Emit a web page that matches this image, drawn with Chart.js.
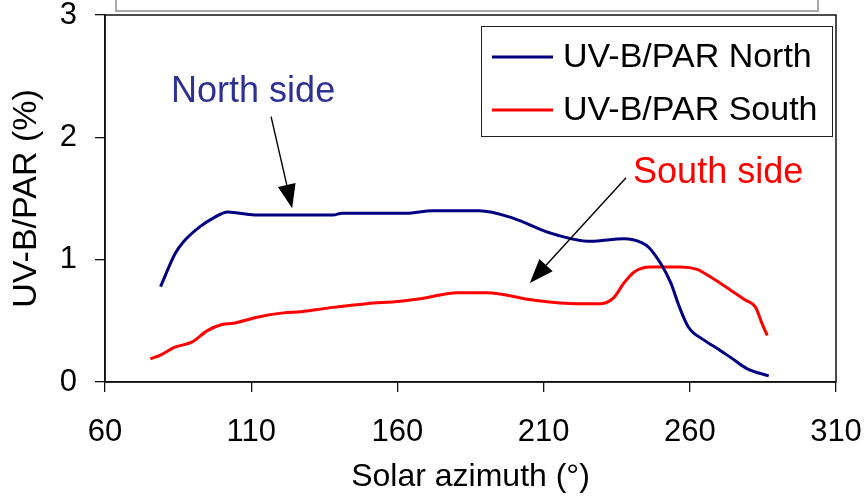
<!DOCTYPE html>
<html>
<head>
<meta charset="utf-8">
<script src="https://cdn.jsdelivr.net/npm/chart.js@4"></script>
<style>
  html, body { margin: 0; padding: 0; background: #fff; }
  #wrap { width: 864px; height: 498px; }
</style>
</head>
<body>
<div id="wrap"><canvas id="c" width="864" height="498"></canvas></div>
<script>
// ── data ──
var seriesNames = ["UV-B/PAR North", "UV-B/PAR South"];
var seriesColors = ["#000080", "#ff0000"];

var northX = [79, 84, 87, 92.5, 97, 102, 106, 112, 125, 138, 141, 163, 172, 188, 199.5, 212, 226, 237.5, 243.5, 246, 250, 253.5, 256.5, 259.5, 265, 269, 274, 279.5, 287];
var northY = [0.78, 1.05, 1.15, 1.27, 1.34, 1.39, 1.38, 1.365, 1.365, 1.365, 1.38, 1.38, 1.40, 1.40, 1.34, 1.22, 1.15, 1.17, 1.14, 1.10, 0.97, 0.81, 0.61, 0.45, 0.34, 0.28, 0.20, 0.11, 0.05];

var southX = [75.5, 79, 83.5, 90, 95, 100, 104, 112, 121, 127, 138, 149.5, 161, 169, 180.5, 190.5, 206.5, 221.5, 229.5, 234, 237.5, 241, 246.5, 257, 262.5, 267, 274, 279, 282.5, 284.5, 286.5];
var southY = [0.19, 0.22, 0.28, 0.33, 0.42, 0.47, 0.48, 0.53, 0.565, 0.575, 0.61, 0.64, 0.66, 0.685, 0.73, 0.73, 0.67, 0.64, 0.64, 0.69, 0.81, 0.90, 0.94, 0.94, 0.92, 0.86, 0.75, 0.67, 0.61, 0.49, 0.38];

var xMin = 60, xMax = 310, xStep = 50;
var yMin = 0, yMax = 3, yStep = 1;

// annotations in data units: text anchor + arrow from/to
var noteTexts  = ["North side", "South side"];
var noteColors = ["#2e3192", "#ff0000"];
var noteAt     = [[82.6, 2.29], [240.6, 1.63]];
var arrowFrom  = [[116.8, 2.17], [238.2, 1.67]];
var arrowTo    = [[124, 1.42], [205.3, 0.81]];

function pairs(xs, ys) {
  return xs.map(function(x, i) { return { x: x, y: ys[i] }; });
}

var FONT = "'Liberation Sans', Arial, sans-serif";

// ── frame, top box, legend, notes ──
var decor = {
  id: "decor",
  afterDraw: function(chart) {
    var ctx = chart.ctx, a = chart.chartArea;
    var xs = chart.scales.x, ys = chart.scales.y;
    ctx.save();

    // plot frame
    ctx.strokeStyle = "#111";
    ctx.lineWidth = 1.5;
    ctx.strokeRect(a.left, a.top, a.right - a.left, a.bottom - a.top);

    // clipped box above the plot
    ctx.strokeStyle = "#a8a8a8";
    ctx.lineWidth = 2;
    ctx.strokeRect(a.left + 11, -6, a.right - a.left - 29, a.top - 4 + 6);

    // legend
    var lw = 351, lh = 110;
    var lx = a.right - 4 - lw, ly = a.top + 11;
    ctx.fillStyle = "#fff";
    ctx.fillRect(lx, ly, lw, lh);
    ctx.strokeStyle = "#222";
    ctx.lineWidth = 1;
    ctx.strokeRect(lx + 0.5, ly + 0.5, lw, lh);
    ctx.font = "34px " + FONT;
    ctx.textBaseline = "middle";
    ctx.textAlign = "left";
    chart.data.datasets.forEach(function(ds, i) {
      var yy = ly + 31 + i * 53;
      ctx.strokeStyle = ds.borderColor;
      ctx.lineWidth = 3;
      ctx.beginPath();
      ctx.moveTo(lx + 11, yy);
      ctx.lineTo(lx + 72, yy);
      ctx.stroke();
      ctx.fillStyle = "#000";
      ctx.fillText(ds.label, lx + 82, yy + 1);
    });

    // notes with arrows
    ctx.font = "36px " + FONT;
    ctx.textBaseline = "alphabetic";
    noteTexts.forEach(function(t, i) {
      ctx.fillStyle = noteColors[i];
      ctx.fillText(t, xs.getPixelForValue(noteAt[i][0]), ys.getPixelForValue(noteAt[i][1]));

      var x1 = xs.getPixelForValue(arrowFrom[i][0]), y1 = ys.getPixelForValue(arrowFrom[i][1]);
      var x2 = xs.getPixelForValue(arrowTo[i][0]),   y2 = ys.getPixelForValue(arrowTo[i][1]);
      var ang = Math.atan2(y2 - y1, x2 - x1);
      var hl = 24, hw = 9;
      var bx = x2 - hl * Math.cos(ang), by = y2 - hl * Math.sin(ang);
      ctx.strokeStyle = "#000";
      ctx.lineWidth = 1.4;
      ctx.beginPath();
      ctx.moveTo(x1, y1);
      ctx.lineTo(bx, by);
      ctx.stroke();
      ctx.fillStyle = "#000";
      ctx.beginPath();
      ctx.moveTo(x2, y2);
      ctx.lineTo(bx + hw * Math.sin(ang), by - hw * Math.cos(ang));
      ctx.lineTo(bx - hw * Math.sin(ang), by + hw * Math.cos(ang));
      ctx.closePath();
      ctx.fill();
    });
    ctx.restore();
  }
};

var ctx = document.getElementById("c").getContext("2d");
new Chart(ctx, {
  type: "line",
  data: {
    datasets: [
      { label: seriesNames[0], data: pairs(northX, northY), borderColor: seriesColors[0], borderWidth: 3, pointRadius: 0, cubicInterpolationMode: "monotone", fill: false },
      { label: seriesNames[1], data: pairs(southX, southY), borderColor: seriesColors[1], borderWidth: 3, pointRadius: 0, cubicInterpolationMode: "monotone", fill: false }
    ]
  },
  options: {
    responsive: false,
    animation: false,
    layout: { padding: { left: 0, right: 28, top: 15, bottom: 0 } },
    plugins: { legend: { display: false }, tooltip: { enabled: false } },
    scales: {
      x: {
        type: "linear", min: xMin, max: xMax,
        ticks: { stepSize: xStep, color: "#000", font: { family: FONT, size: 31 }, padding: 22, maxRotation: 0 },
        grid: { display: true, drawOnChartArea: false, drawTicks: true, tickLength: 10, color: "#111", lineWidth: 1.3 },
        border: { display: true, color: "#111", width: 1.5 },
        title: { display: true, text: "Solar azimuth (°)", color: "#000", font: { family: FONT, size: 32 }, padding: { top: 0, bottom: 2 } },
        afterFit: function(s) { s.height = 116; s.paddingLeft = 0; s.paddingRight = 0; }
      },
      y: {
        type: "linear", min: yMin, max: yMax,
        ticks: { stepSize: yStep, color: "#000", font: { family: FONT, size: 31 }, padding: 18 },
        grid: { display: true, drawOnChartArea: false, drawTicks: true, tickLength: 10, color: "#111", lineWidth: 1.3 },
        border: { display: true, color: "#111", width: 1.5 },
        title: { display: true, text: "UV-B/PAR (%)", color: "#000", font: { family: FONT, size: 34 }, padding: { top: 6, bottom: 5 } },
        afterFit: function(s) { s.width = 105; s.paddingTop = 0; s.paddingBottom = 0; }
      }
    }
  },
  plugins: [decor]
});
</script>
</body>
</html>
